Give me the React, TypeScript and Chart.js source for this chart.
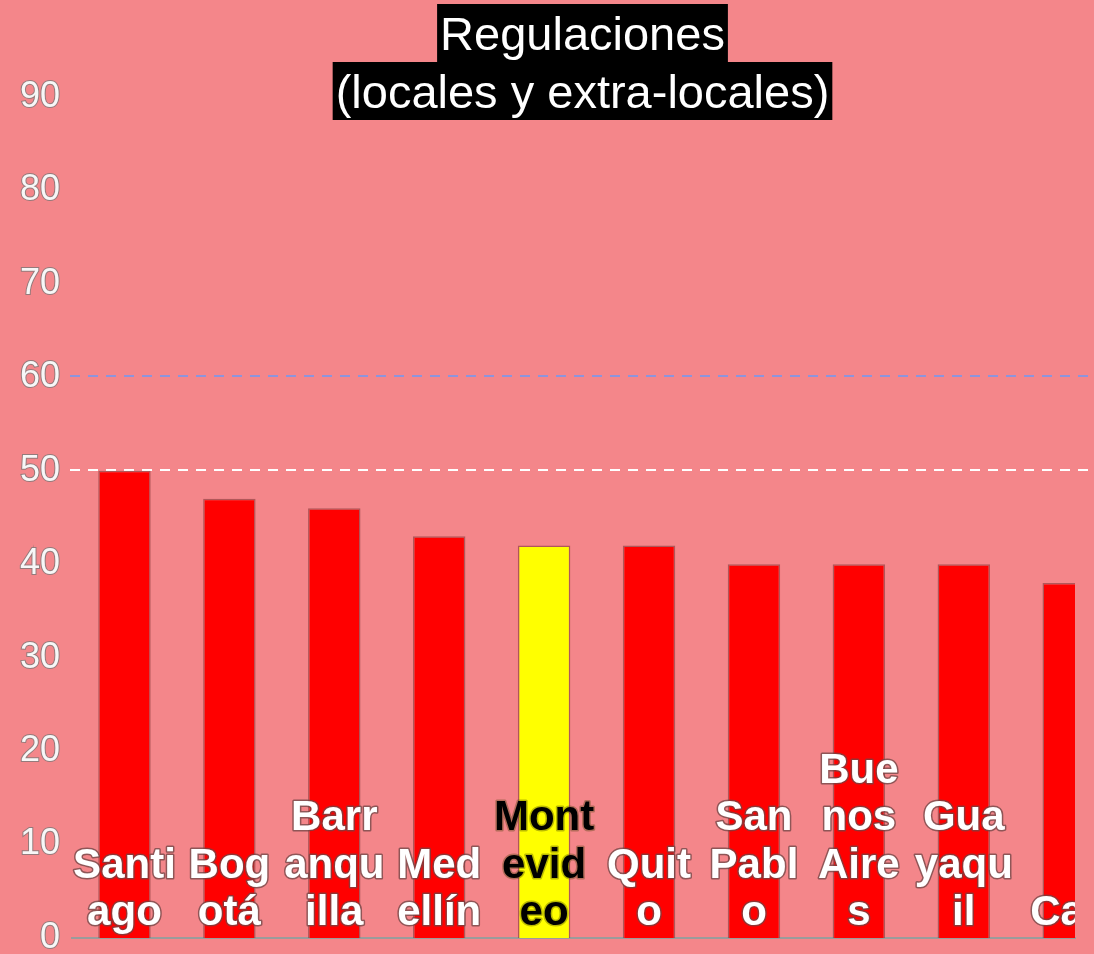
import React, { useEffect, useRef } from 'react';
import { Chart, registerables } from 'chart.js';

Chart.register(...registerables);

// ---------- data ----------
const categories = [
  'Santiago', 'Bogotá', 'Barranquilla', 'Medellín', 'Montevideo',
  'Quito', 'San Pablo', 'Buenos Aires', 'Guayaquil', 'Cali',
];
const labelLines = [
  ['Santi', 'ago'],
  ['Bog', 'otá'],
  ['Barr', 'anqu', 'illa'],
  ['Med', 'ellín'],
  ['Mont', 'evid', 'eo'],
  ['Quit', 'o'],
  ['San', 'Pabl', 'o'],
  ['Bue', 'nos', 'Aire', 's'],
  ['Gua', 'yaqu', 'il'],
  ['Cali'],
];
const values = [50, 47, 46, 43, 42, 42, 40, 40, 40, 38];
const highlighted = ['Montevideo'];
const titleLines = ['Regulaciones', '(locales y extra-locales)'];
const yMin = 0;
const yMax = 90;
const yStep = 10;
const referenceValues = [60, 50];
const referenceColors = ['#8d94dc', '#ffffff'];

// ---------- styles ----------
const BG = '#f4868a';
const BAR_RED = '#ff0000';
const BAR_YELLOW = '#ffff00';
const FONT = "'Liberation Sans', Arial, sans-serif";

const barColors = categories.map((c) => (highlighted.includes(c) ? BAR_YELLOW : BAR_RED));
const labelColors = categories.map((c) => (highlighted.includes(c) ? '#000000' : '#ffffff'));

const referenceLinesPlugin = {
  id: 'referenceLines',
  beforeDatasetsDraw(chart: any) {
    const { ctx, chartArea, scales } = chart;
    ctx.save();
    ctx.lineWidth = 2;
    ctx.setLineDash([10, 8]);
    referenceValues.forEach((v, i) => {
      const y = Math.round(scales.y.getPixelForValue(v)) - 1;
      ctx.strokeStyle = referenceColors[i];
      ctx.beginPath();
      ctx.moveTo(chartArea.left - 2, y);
      ctx.lineTo(chart.width, y);
      ctx.stroke();
    });
    ctx.restore();
  },
};

const barLabelsPlugin = {
  id: 'barLabels',
  afterDatasetsDraw(chart: any) {
    const { ctx, chartArea, scales } = chart;
    const meta = chart.getDatasetMeta(0);
    const base = scales.y.getPixelForValue(0);
    const lineH = 47.5;
    ctx.save();
    ctx.beginPath();
    ctx.rect(0, 0, chartArea.right, chart.height);
    ctx.clip();
    ctx.font = `bold 42px ${FONT}`;
    ctx.textAlign = 'center';
    ctx.textBaseline = 'alphabetic';
    ctx.lineJoin = 'round';
    meta.data.forEach((el: any, i: number) => {
      const lines = labelLines[i];
      const n = lines.length;
      lines.forEach((t, j) => {
        const y = base - 13 - (n - 1 - j) * lineH;
        ctx.lineWidth = 3;
        ctx.strokeStyle = labelColors[i] === '#ffffff' ? 'rgba(110,70,70,0.75)' : 'rgba(60,60,0,0.35)';
        ctx.strokeText(t, el.x, y);
        ctx.fillStyle = labelColors[i];
        ctx.fillText(t, el.x, y);
      });
    });
    ctx.restore();
  },
};

const boxedTitlePlugin = {
  id: 'boxedTitle',
  afterDraw(chart: any) {
    const { ctx } = chart;
    const cx = 582.5;
    ctx.save();
    ctx.font = `47px ${FONT}`;
    ctx.textAlign = 'center';
    ctx.textBaseline = 'alphabetic';
    titleLines.forEach((t, i) => {
      const top = 4 + i * 58;
      const w = ctx.measureText(t).width + 6;
      ctx.fillStyle = '#000000';
      ctx.fillRect(cx - w / 2, top, w, 58);
      ctx.fillStyle = '#ffffff';
      ctx.fillText(t, cx, top + 46);
    });
    ctx.restore();
  },
};

export default function App() {
  const canvasRef = useRef<HTMLCanvasElement | null>(null);

  useEffect(() => {
    if (!canvasRef.current) return;
    const chart = new Chart(canvasRef.current, {
      type: 'bar',
      data: {
        datasets: [
          {
            label: 'Regulaciones',
            data: values.map((v, i) => ({ x: i, y: v })),
            backgroundColor: barColors,
            borderColor: 'rgba(120,50,50,0.55)',
            borderWidth: 1.5,
            barPercentage: 0.5,
            categoryPercentage: 1,
          },
        ],
      },
      options: {
        responsive: false,
        animation: false,
        events: [],
        layout: { padding: { top: 97, right: 19, bottom: 16, left: 0 } },
        plugins: {
          legend: { display: false },
          title: { display: false },
          tooltip: { enabled: false },
        },
        scales: {
          x: {
            type: 'linear',
            position: 'bottom',
            offset: false,
            min: -0.5,
            max: 9.06,
            afterBuildTicks: (scale: any) => {
              scale.ticks = categories.map((_, i) => ({ value: i }));
            },
            afterFit: (scale: any) => {
              scale.height = 0;
              scale.paddingLeft = 0;
              scale.paddingRight = 0;
            },
            grid: { display: false, drawTicks: false },
            ticks: { display: false },
            border: { display: true, color: '#9b9b9b', width: 2 },
          },
          y: {
            min: yMin,
            max: yMax,
            afterFit: (scale: any) => {
              scale.width = 72;
              scale.paddingTop = 0;
              scale.paddingBottom = 0;
            },
            grid: { display: false, drawTicks: false },
            border: { display: false },
            ticks: {
              stepSize: yStep,
              padding: 12,
              color: '#f7f7f7',
              textStrokeColor: 'rgba(130,120,120,0.85)',
              textStrokeWidth: 2,
              font: { family: FONT, size: 36 },
            },
          },
        },
      },
      plugins: [referenceLinesPlugin, barLabelsPlugin, boxedTitlePlugin],
    } as any);
    return () => chart.destroy();
  }, []);

  return (
    <div
      style={{
        position: 'absolute',
        left: 0,
        top: 0,
        width: 1094,
        height: 954,
        overflow: 'hidden',
        background: BG,
      }}
    >
      <canvas ref={canvasRef} width={1094} height={954} style={{ display: 'block' }} />
    </div>
  );
}
